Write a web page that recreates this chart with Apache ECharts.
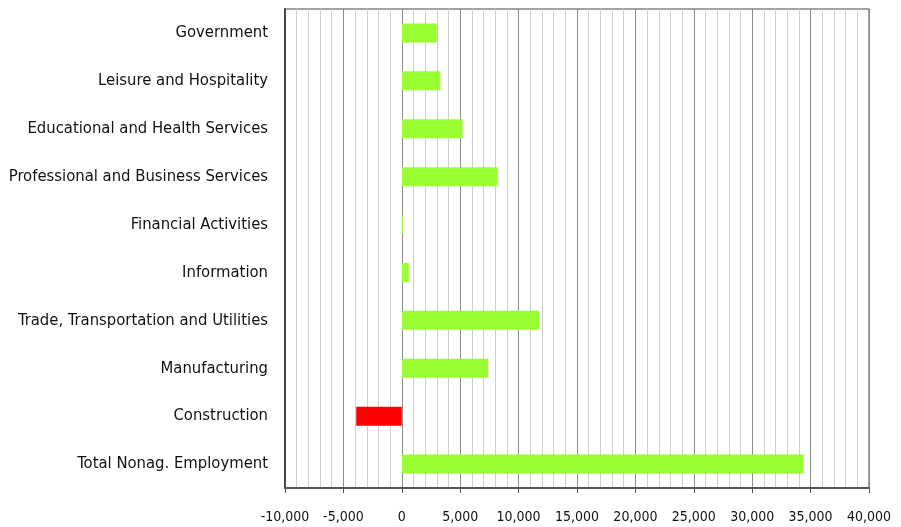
<!DOCTYPE html>
<html>
<head>
<meta charset="utf-8">
<script src="https://cdn.jsdelivr.net/npm/echarts@6/dist/echarts.min.js"></script>
<style>
  html, body { margin: 0; padding: 0; background: #fff; }
  #chart { width: 901px; height: 527px; }
</style>
</head>
<body>
<div id="chart"></div>
<script>
// categories, bottom to top
var categories = [
  'Total Nonag. Employment',
  'Construction',
  'Manufacturing',
  'Trade, Transportation and Utilities',
  'Information',
  'Financial Activities',
  'Professional and Business Services',
  'Educational and Health Services',
  'Leisure and Hospitality',
  'Government'
];
var values = [34400, -3900, 7400, 11750, 600, 100, 8200, 5200, 3300, 3000];
var posColor = '#99FF33';
var negColor = '#FF0000';

var font = '"DejaVu Sans Condensed", "Liberation Sans Narrow", sans-serif';

var chart = echarts.init(document.getElementById('chart'));

var option = {
  animation: false,
  grid: {
    left: 285, right: 32, top: 9, bottom: 39,
    show: true, borderColor: '#444', borderWidth: 1,
    containLabel: false,
    outerBoundsMode: 'none'
  },
  xAxis: {
    type: 'value',
    min: -10000, max: 40000, interval: 5000,
    axisLine: { show: true, lineStyle: { color: '#555', width: 2 } },
    axisTick: { show: true, length: 5, lineStyle: { color: '#555' } },
    axisLabel: {
      fontFamily: font, fontSize: 14, color: '#111', margin: 22,
      formatter: function (v) { return v.toLocaleString('en-US'); }
    },
    splitLine: { show: true, lineStyle: { color: '#8c8c8c', width: 1 } },
    minorTick: { show: false, splitNumber: 5 },
    minorSplitLine: { show: true, lineStyle: { color: '#cfcfcf', width: 1 } }
  },
  yAxis: {
    type: 'category',
    data: categories,
    axisLine: { show: true, onZero: false, lineStyle: { color: '#444', width: 2 } },
    axisTick: { show: false },
    axisLabel: { fontFamily: font, fontSize: 16.5, color: '#111', margin: 17 },
    splitLine: { show: false }
  },
  series: [{
    type: 'bar',
    data: values.map(function (v) {
      return { value: v, itemStyle: { color: v < 0 ? negColor : posColor } };
    }),
    barWidth: 19
  }]
};
chart.setOption(option);
</script>
</body>
</html>
